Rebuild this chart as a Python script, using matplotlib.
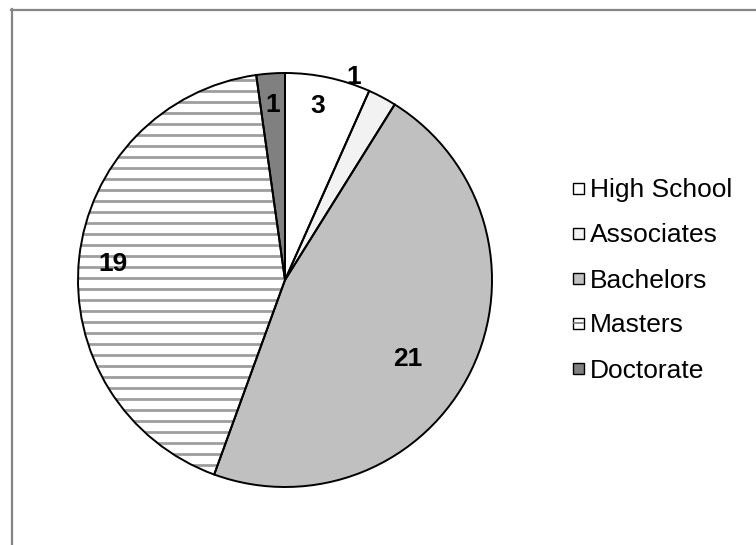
import numpy as np
import matplotlib.pyplot as plt
from matplotlib.lines import Line2D
from matplotlib.patches import Rectangle

plt.rcParams['font.family'] = ['Liberation Sans', 'DejaVu Sans']

degrees = ['High School', 'Associates', 'Bachelors', 'Masters', 'Doctorate']
counts = [3, 1, 21, 19, 1]
fills = ['#ffffff', '#f2f2f2', '#c0c0c0', '#ffffff', '#808080']

W, H, DPI = 756, 545, 100
fig = plt.figure(figsize=(W / DPI, H / DPI), dpi=DPI)

# pie axes: centre (285, 280) px from the top-left, radius 207 px
cx, cy, r = 285, 280, 207
ax = fig.add_axes([(cx - r) / W, (H - cy - r) / H, 2 * r / W, 2 * r / H])
wedges, _ = ax.pie(counts, startangle=90, counterclock=False, colors=fills,
                   radius=1, wedgeprops=dict(linewidth=0))
for w in wedges:
    w.set_zorder(1)

# horizontal stripes for the Masters slice
step = 11 / r
for y in np.arange(-1, 1, step):
    ln = ax.plot([-1, 1], [y, y], color='#9e9e9e', lw=2.0, zorder=1.5)[0]
    ln.set_clip_path(wedges[3])

# slice outlines on top of the stripes
edge = ax.pie(counts, startangle=90, counterclock=False, radius=1,
              wedgeprops=dict(facecolor='none', edgecolor='black', linewidth=1.4))[0]
for w in edge:
    w.set_zorder(2)

ax.set_xlim(-1, 1)
ax.set_ylim(-1, 1)
ax.set_aspect('equal')
ax.axis('off')

# value labels inside the slices
total = sum(counts)
label_place = [(0.865, 1.5), (1.045, 9.5), (0.70, -6.0), (0.835, 0.0), (0.86, 0.0)]
cum = 0
for n, (rf, shift) in zip(counts, label_place):
    mid = 90 - 360 * (cum + n / 2) / total + shift
    cum += n
    a = np.radians(mid)
    ax.text(rf * np.cos(a), rf * np.sin(a), str(n), ha='center', va='center_baseline',
            fontsize=19, fontweight='bold', color='black', zorder=3)

# legend drawn by hand on the right
for i, (name, fc) in enumerate(zip(degrees, fills)):
    yc = 188 + 45 * i
    x0, s = 573, 11
    fig.add_artist(Rectangle((x0 / W, (H - yc - s / 2) / H), s / W, s / H,
                             transform=fig.transFigure, facecolor=fc,
                             edgecolor='black', linewidth=1.0))
    if name == 'Masters':
        fig.add_artist(Line2D([(x0 + 1) / W, (x0 + s - 1) / W], [(H - yc) / H] * 2,
                              color='#808080', lw=1.3))
    fig.text(590 / W, (H - yc) / H, name, ha='left', va='center_baseline',
             fontsize=19, color='black')

# chart area border (left and top edges visible)
fig.add_artist(Line2D([11.5 / W, 11.5 / W], [0, (H - 9) / H], color='#868686', lw=1.6))
fig.add_artist(Line2D([11 / W, 1], [(H - 9.5) / H] * 2, color='#868686', lw=1.6))

fig.savefig('out.png', dpi=DPI)
